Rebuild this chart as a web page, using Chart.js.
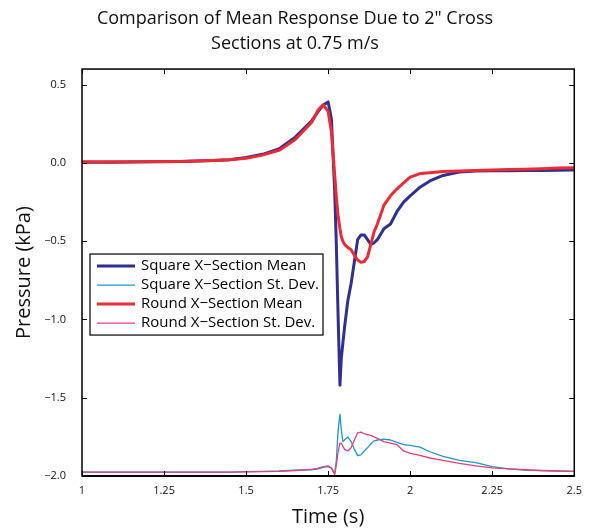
<!DOCTYPE html>
<html>
<head>
<meta charset="utf-8">
<script src="https://cdn.jsdelivr.net/npm/chart.js@4.4.1/dist/chart.umd.min.js"></script>
<style>
  html, body { margin: 0; padding: 0; background: #fff; }
  #wrap { width: 590px; height: 529px; }
</style>
</head>
<body>
<div id="wrap"><canvas id="chart" width="590" height="529"></canvas></div>
<script>
// time samples (s), shared by all four series
const timeS = [1.0, 1.1, 1.2, 1.3, 1.4, 1.45, 1.5, 1.55, 1.6, 1.65, 1.7, 1.72, 1.735, 1.75, 1.76, 1.77,
  1.775, 1.78, 1.786, 1.79, 1.795, 1.8, 1.81, 1.82, 1.83, 1.84, 1.85, 1.86, 1.87, 1.88, 1.89, 1.9,
  1.92, 1.94, 1.96, 1.98, 2.0, 2.03, 2.06, 2.1, 2.15, 2.2, 2.25, 2.3, 2.35, 2.4, 2.45, 2.5];

// pressure (kPa)
const squareMean = [0.005, 0.005, 0.008, 0.01, 0.015, 0.02, 0.035, 0.055, 0.09, 0.165, 0.27, 0.33, 0.37, 0.39, 0.28, -0.18,
  -0.52, -0.95, -1.42, -1.25, -1.15, -1.05, -0.88, -0.77, -0.63, -0.49, -0.46, -0.46, -0.49, -0.52, -0.51, -0.49,
  -0.42, -0.39, -0.31, -0.25, -0.21, -0.155, -0.115, -0.08, -0.058, -0.052, -0.05, -0.05, -0.048, -0.048, -0.047, -0.045];

const squareStd = [-1.975, -1.975, -1.975, -1.975, -1.975, -1.975, -1.972, -1.97, -1.968, -1.962, -1.96, -1.955, -1.945, -1.94, -1.95, -1.985,
  -1.9, -1.72, -1.605, -1.7, -1.78, -1.77, -1.75, -1.78, -1.83, -1.87, -1.865, -1.84, -1.82, -1.795, -1.775, -1.77,
  -1.765, -1.77, -1.785, -1.8, -1.805, -1.815, -1.845, -1.875, -1.9, -1.915, -1.94, -1.955, -1.962, -1.966, -1.968, -1.97];

const roundMean = [0.008, 0.008, 0.008, 0.01, 0.015, 0.02, 0.03, 0.05, 0.08, 0.15, 0.26, 0.34, 0.372, 0.33, 0.2, -0.08,
  -0.22, -0.33, -0.42, -0.47, -0.5, -0.52, -0.54, -0.555, -0.59, -0.62, -0.635, -0.63, -0.6, -0.52, -0.44, -0.39,
  -0.27, -0.21, -0.165, -0.127, -0.09, -0.068, -0.062, -0.055, -0.052, -0.048, -0.045, -0.042, -0.04, -0.037, -0.033, -0.03];

const roundStd = [-1.975, -1.975, -1.975, -1.975, -1.975, -1.975, -1.974, -1.972, -1.97, -1.965, -1.958, -1.95, -1.94, -1.935, -1.95, -1.99,
  -1.93, -1.85, -1.79, -1.79, -1.81, -1.83, -1.84, -1.82, -1.77, -1.725, -1.72, -1.73, -1.735, -1.74, -1.75, -1.76,
  -1.78, -1.79, -1.8, -1.84, -1.855, -1.868, -1.885, -1.9, -1.92, -1.935, -1.948, -1.955, -1.96, -1.965, -1.968, -1.97];

const xTicks = [1, 1.25, 1.5, 1.75, 2, 2.25, 2.5];
const yTicks = [-2.0, -1.5, -1.0, -0.5, 0.0, 0.5];

const seriesLabels = ["Square X\u2212Section Mean", "Square X\u2212Section St. Dev.", "Round X\u2212Section Mean", "Round X\u2212Section St. Dev."];

const FONT = "'Open Sans', 'Noto Sans', sans-serif";

const toPoints = vals => vals.map((v, i) => ({ x: timeS[i], y: v }));

// frame + inward tick marks, matlab style
const framePlugin = {
  id: 'frame',
  afterDatasetsDraw(chart) {
    const { ctx, chartArea: a, scales: { x, y } } = chart;
    ctx.save();
    ctx.strokeStyle = '#000';
    ctx.lineWidth = 1;
    xTicks.forEach(t => {
      const px = Math.round(x.getPixelForValue(t)) + 0.5;
      ctx.beginPath();
      ctx.moveTo(px, a.bottom); ctx.lineTo(px, a.bottom - 5);
      ctx.moveTo(px, a.top); ctx.lineTo(px, a.top + 5);
      ctx.stroke();
    });
    yTicks.forEach(t => {
      const py = Math.round(y.getPixelForValue(t)) + 0.5;
      ctx.beginPath();
      ctx.moveTo(a.left, py); ctx.lineTo(a.left + 5, py);
      ctx.moveTo(a.right, py); ctx.lineTo(a.right - 5, py);
      ctx.stroke();
    });
    ctx.lineWidth = 1.5;
    ctx.strokeRect(a.left, a.top, a.right - a.left, a.bottom - a.top);
    ctx.lineWidth = 2;
    ctx.beginPath();
    ctx.moveTo(a.left, a.bottom); ctx.lineTo(a.right, a.bottom);
    ctx.stroke();
    ctx.restore();
  }
};

// legend box inside the plot area
const boxLegend = {
  id: 'boxLegend',
  afterDraw(chart) {
    const { ctx, chartArea: a } = chart;
    const x0 = a.left + 8, y0 = a.top + 185, w = 233, h = 81;
    ctx.save();
    ctx.fillStyle = '#fff';
    ctx.fillRect(x0, y0, w, h);
    ctx.strokeStyle = '#000';
    ctx.lineWidth = 1.2;
    ctx.strokeRect(x0, y0, w, h);
    ctx.font = "15px " + FONT;
    ctx.textBaseline = 'middle';
    chart.data.datasets.forEach((ds, i) => {
      const ry = y0 + 12 + i * 19;
      ctx.strokeStyle = ds.borderColor;
      ctx.lineWidth = ds.borderWidth;
      ctx.beginPath();
      ctx.moveTo(x0 + 7, ry); ctx.lineTo(x0 + 45, ry);
      ctx.stroke();
      ctx.fillStyle = '#000';
      ctx.fillText(ds.label, x0 + 51, ry);
    });
    ctx.restore();
  }
};

new Chart(document.getElementById('chart'), {
  type: 'line',
  data: {
    datasets: [
      { label: seriesLabels[0], data: toPoints(squareMean), borderColor: '#2e3192', borderWidth: 3, order: 1 },
      { label: seriesLabels[1], data: toPoints(squareStd), borderColor: '#1b98d5', borderWidth: 1.3, order: 3 },
      { label: seriesLabels[2], data: toPoints(roundMean), borderColor: '#ee2a33', borderWidth: 3, order: 0 },
      { label: seriesLabels[3], data: toPoints(roundStd), borderColor: '#e5407a', borderWidth: 1.3, order: 2 }
    ]
  },
  options: {
    responsive: false,
    animation: false,
    layout: { padding: { left: 14, right: 14, top: 0, bottom: 0 } },
    elements: { point: { radius: 0 }, line: { tension: 0, borderJoinStyle: 'round' } },
    plugins: {
      legend: { display: false },
      tooltip: { enabled: false },
      title: {
        display: true,
        text: ["Comparison of Mean Response Due to 2\" Cross", "Sections at 0.75 m/s"],
        color: '#111',
        font: { family: FONT, size: 18, weight: 'normal', lineHeight: 1.39 },
        padding: { top: 6.5, bottom: 12.5 }
      }
    },
    scales: {
      x: {
        type: 'linear',
        min: 1, max: 2.5,
        afterBuildTicks: s => { s.ticks = xTicks.map(v => ({ value: v })); },
        afterFit: s => { s.height = 53; },
        grid: { display: false, drawTicks: false },
        border: { display: false },
        ticks: {
          color: '#111', padding: 8, maxRotation: 0,
          font: { family: FONT, size: 11 },
          callback: v => String(v)
        },
        title: {
          display: true, text: 'Time (s)', color: '#111',
          font: { family: FONT, size: 20 },
          padding: { top: 0, bottom: 0 }
        }
      },
      y: {
        min: -2.0, max: 0.6,
        afterBuildTicks: s => { s.ticks = yTicks.map(v => ({ value: v })); },
        afterFit: s => { s.width = 68; },
        grid: { display: false, drawTicks: false },
        border: { display: false },
        ticks: {
          color: '#111', padding: 16,
          font: { family: FONT, size: 11 },
          callback: v => v.toFixed(1).replace('-', '\u2212')
        },
        title: {
          display: true, text: 'Pressure (kPa)', color: '#111',
          font: { family: FONT, size: 20, lineHeight: 1.0 },
          padding: { top: 0, bottom: 0 }
        }
      }
    }
  },
  plugins: [framePlugin, boxLegend]
});
</script>
</body>
</html>
